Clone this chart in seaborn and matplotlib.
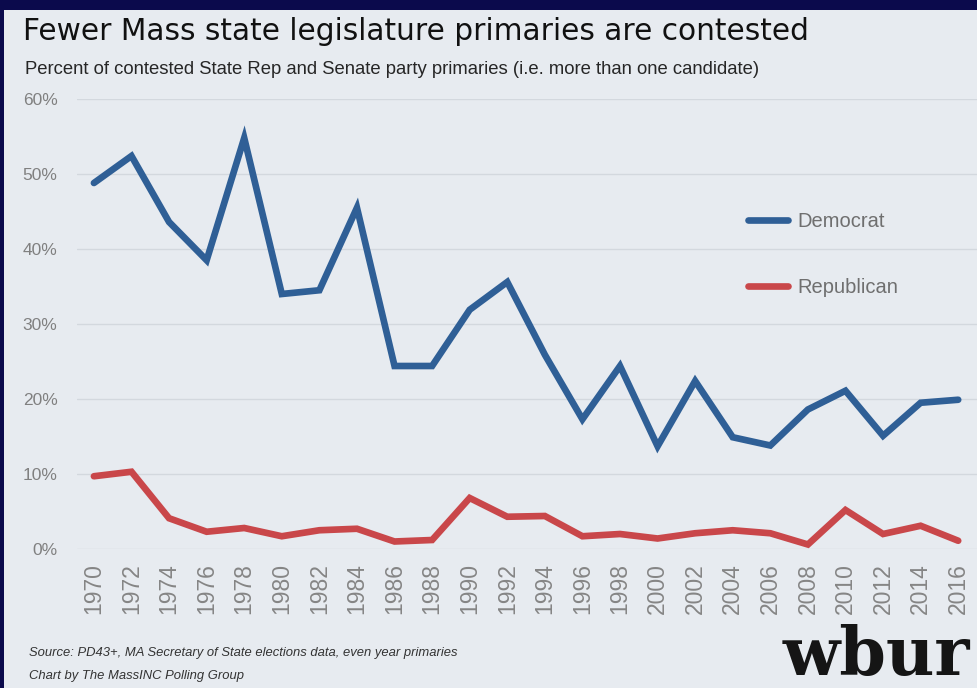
import numpy as np
import pandas as pd
import matplotlib
matplotlib.use("Agg")
import matplotlib.pyplot as plt
import seaborn as sns

# Donnees (% de primaires contestees)
years = list(range(1970, 2017, 2))
democrat = [48.8, 52.4, 43.6, 38.5, 54.8, 34.0, 34.5, 45.5, 24.4, 24.4, 31.9, 35.6,
            25.9, 17.3, 24.4, 13.7, 22.4, 14.9, 13.8, 18.6, 21.1, 15.1, 19.5, 19.9]
republican = [9.7, 10.3, 4.1, 2.3, 2.8, 1.7, 2.5, 2.7, 1.0, 1.2, 6.8, 4.3,
              4.4, 1.7, 2.0, 1.4, 2.1, 2.5, 2.1, 0.6, 5.2, 2.0, 3.1, 1.1]
parties = ["Democrat", "Republican"]
colors = {"Democrat": "#2f5f96", "Republican": "#c9474a"}
y_ticks = [0, 10, 20, 30, 40, 50, 60]

df = pd.DataFrame({
    "year": years * 2,
    "pct": democrat + republican,
    "party": [parties[0]] * len(years) + [parties[1]] * len(years),
})

sns.set_style("white")
plt.rcParams["font.family"] = ["Liberation Sans", "DejaVu Sans"]

W, H = 977, 688
bg = "#e7ebf0"
navy = "#0b0a4c"
fig = plt.figure(figsize=(W / 100, H / 100), dpi=100, facecolor=navy)
fig.patches.append(plt.Rectangle((4 / W, 0), 1, 1 - 10 / H, transform=fig.transFigure,
                                 facecolor=bg, edgecolor="none", zorder=-5))

ax = fig.add_axes([77 / W, 1 - 549 / H, 1 - 77 / W, 450 / H])
ax.set_facecolor(bg)
sns.lineplot(data=df, x="year", y="pct", hue="party", palette=colors, ax=ax,
             linewidth=4.8, solid_capstyle="round", solid_joinstyle="miter", legend=False)
for ln in ax.lines:
    ln.set_clip_on(False)

ax.set_xlim(1969.1, 2017.0)
ax.set_ylim(0, 60)
ax.set_yticks(y_ticks)
ax.set_yticklabels([f"{v}%" for v in y_ticks])
ax.set_xticks(years)
ax.set_xticklabels([str(y) for y in years], rotation=90)
ax.tick_params(axis="y", length=0, pad=14, labelsize=12.5, labelcolor="#808080")
ax.tick_params(axis="x", length=0, pad=10, labelsize=16.5, labelcolor="#858585")
ax.yaxis.grid(True, color="#d3d8de", linewidth=1)
ax.xaxis.grid(False)
ax.set_axisbelow(True)
for s in ax.spines.values():
    s.set_visible(False)
ax.set_xlabel("")
ax.set_ylabel("")

# legende
handles = [plt.Line2D([], [], color=colors[p], linewidth=4.8, solid_capstyle="round") for p in parties]
leg = fig.legend(handles, parties, loc="center left", bbox_to_anchor=(748 / W, 1 - 254.5 / H),
                 frameon=False, fontsize=14.5, handlelength=2.0, handletextpad=0.45,
                 labelspacing=2.3, borderpad=0, borderaxespad=0)
for t in leg.get_texts():
    t.set_color("#6f6f6f")

# titres
fig.text(23 / W, 1 - 40 / H, "Fewer Mass state legislature primaries are contested",
         fontsize=21.3, color="#111111", va="baseline", ha="left",
         family=["DejaVu Sans"])
fig.text(25 / W, 1 - 73.5 / H,
         "Percent of contested State Rep and Senate party primaries (i.e. more than one candidate)",
         fontsize=13.3, color="#262626", va="baseline", ha="left")

# source
fig.text(29 / W, 1 - 656 / H,
         "Source: PD43+, MA Secretary of State elections data, even year primaries",
         fontsize=9.4, style="italic", color="#333333", va="baseline", ha="left")
fig.text(29 / W, 1 - 679 / H, "Chart by The MassINC Polling Group",
         fontsize=9.4, style="italic", color="#333333", va="baseline", ha="left")
fig.text(970 / W, 1 - 675 / H, "wbur", fontsize=48, weight="bold", color="#151515",
         va="baseline", ha="right", family=["DejaVu Serif"])

fig.savefig("out.png", dpi=100, facecolor=navy)
